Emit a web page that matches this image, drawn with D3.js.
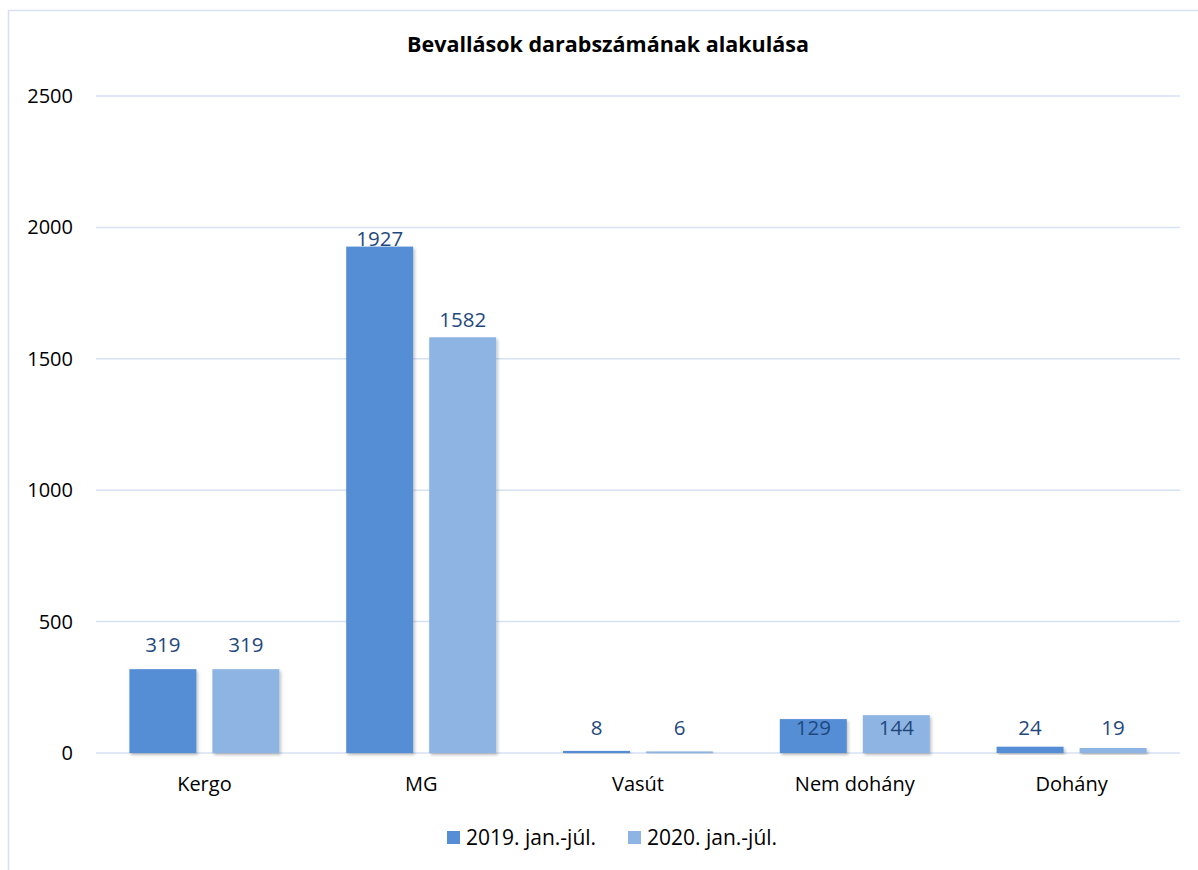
<html>
<head>
    <style>
        body { margin: 0; background: #fff; }
        svg text { font-family: "Open Sans", Lato, sans-serif; }
    </style>
    <script src="https://cdn.jsdelivr.net/npm/d3@7"></script>
</head>
<body>
<svg id="chart" width="1198" height="870"></svg>
<script>
    // data
    var categories = ['Kergo', 'MG', 'Vasút', 'Nem dohány', 'Dohány'];
    var seriesNames = ['2019. jan.-júl.', '2020. jan.-júl.'];
    var values2019 = [319, 1927, 8, 129, 24];
    var values2020 = [319, 1582, 6, 144, 19];
    var yTicks = [0, 500, 1000, 1500, 2000, 2500];
    var colors = ['#558ED5', '#8EB4E3'];

    var svg = d3.select('#chart');

    // outer frame (only top and left edges visible)
    svg.append('rect')
        .attr('x', 8.5).attr('y', 10.5)
        .attr('width', 1400).attr('height', 1000)
        .attr('fill', 'none')
        .attr('stroke', '#D5E0F1')
        .attr('stroke-width', 1.5);

    var defs = svg.append('defs');
    var f = defs.append('filter').attr('id', 'shadow')
        .attr('x', '-20%').attr('y', '-20%').attr('width', '150%').attr('height', '150%');
    f.append('feDropShadow')
        .attr('dx', 1.5).attr('dy', 2).attr('stdDeviation', 1.5)
        .attr('flood-color', '#000').attr('flood-opacity', 0.25);

    var x0 = d3.scaleBand()
        .domain(categories)
        .range([96, 1180]);

    var x1 = d3.scaleBand()
        .domain(seriesNames)
        .range([0, x0.bandwidth()])
        .paddingInner(0.193)
        .paddingOuter(0.4025);

    var y = d3.scaleLinear()
        .domain([0, 2500])
        .range([753, 96]);

    // gridlines
    svg.append('g').selectAll('line')
        .data(yTicks)
        .enter().append('line')
        .attr('x1', 96).attr('x2', 1180)
        .attr('y1', function (d) { return y(d); })
        .attr('y2', function (d) { return y(d); })
        .attr('stroke', '#D6E2F2')
        .attr('stroke-width', 1.5);

    // y axis labels
    var yAxis = d3.axisLeft(y).tickValues(yTicks).tickFormat(d3.format('d')).tickSize(0).tickPadding(0);
    var ya = svg.append('g').attr('transform', 'translate(73,0)').call(yAxis);
    ya.select('.domain').remove();
    ya.selectAll('text')
        .attr('font-size', 20)
        .attr('fill', '#000')
        .style('font-family', '"Open Sans", sans-serif');

    // x axis labels
    var xAxis = d3.axisBottom(x0).tickSize(0).tickPadding(0);
    var xa = svg.append('g').attr('transform', 'translate(0,772)').call(xAxis);
    xa.select('.domain').remove();
    xa.selectAll('text')
        .attr('font-size', 20)
        .attr('fill', '#000')
        .attr('dy', '0.95em')
        .style('font-family', '"Open Sans", sans-serif');

    var rows = categories.map(function (c, i) {
        return { cat: c, vals: [values2019[i], values2020[i]] };
    });

    var groups = svg.append('g').selectAll('g')
        .data(rows)
        .enter().append('g')
        .attr('transform', function (d) { return 'translate(' + x0(d.cat) + ',0)'; });

    var cells = function (d) {
        return d.vals.map(function (v, j) { return { s: seriesNames[j], j: j, v: v }; });
    };

    groups.selectAll('rect')
        .data(cells)
        .enter().append('rect')
        .attr('x', function (d) { return x1(d.s); })
        .attr('width', x1.bandwidth())
        .attr('y', function (d) { return y(d.v); })
        .attr('height', function (d) { return y(0) - y(d.v); })
        .attr('fill', function (d) { return colors[d.j]; })
        .attr('filter', 'url(#shadow)');

    // data labels: short bars get their label in a common row above the baseline
    groups.selectAll('text.val')
        .data(cells)
        .enter().append('text')
        .attr('class', 'val')
        .attr('x', function (d) { return x1(d.s) + x1.bandwidth() / 2; })
        .attr('y', function (d) { return d.v < 200 ? y(0) - 18 : y(d.v) - (d.v > 1800 ? 1 : d.v > 1000 ? 10 : 17); })
        .attr('text-anchor', 'middle')
        .attr('font-size', 20.5)
        .attr('fill', '#1F497D')
        .text(function (d) { return d.v; });

    // title
    svg.append('text')
        .attr('x', 608).attr('y', 52)
        .attr('text-anchor', 'middle')
        .attr('font-size', 21.5)
        .attr('font-weight', 'bold')
        .attr('fill', '#000')
        .text('Bevallások darabszámának alakulása');

    // legend
    var legendX = [447, 628];
    var lg = svg.append('g').selectAll('g')
        .data(seriesNames)
        .enter().append('g')
        .attr('transform', function (d, i) { return 'translate(' + legendX[i] + ',0)'; });
    lg.append('rect')
        .attr('x', 0).attr('y', 831)
        .attr('width', 13).attr('height', 13)
        .attr('fill', function (d, i) { return colors[i]; });
    lg.append('text')
        .attr('x', 19).attr('y', 845)
        .attr('font-size', 21)
        .attr('fill', '#000')
        .text(function (d) { return d; });
</script>
</body>
</html>
